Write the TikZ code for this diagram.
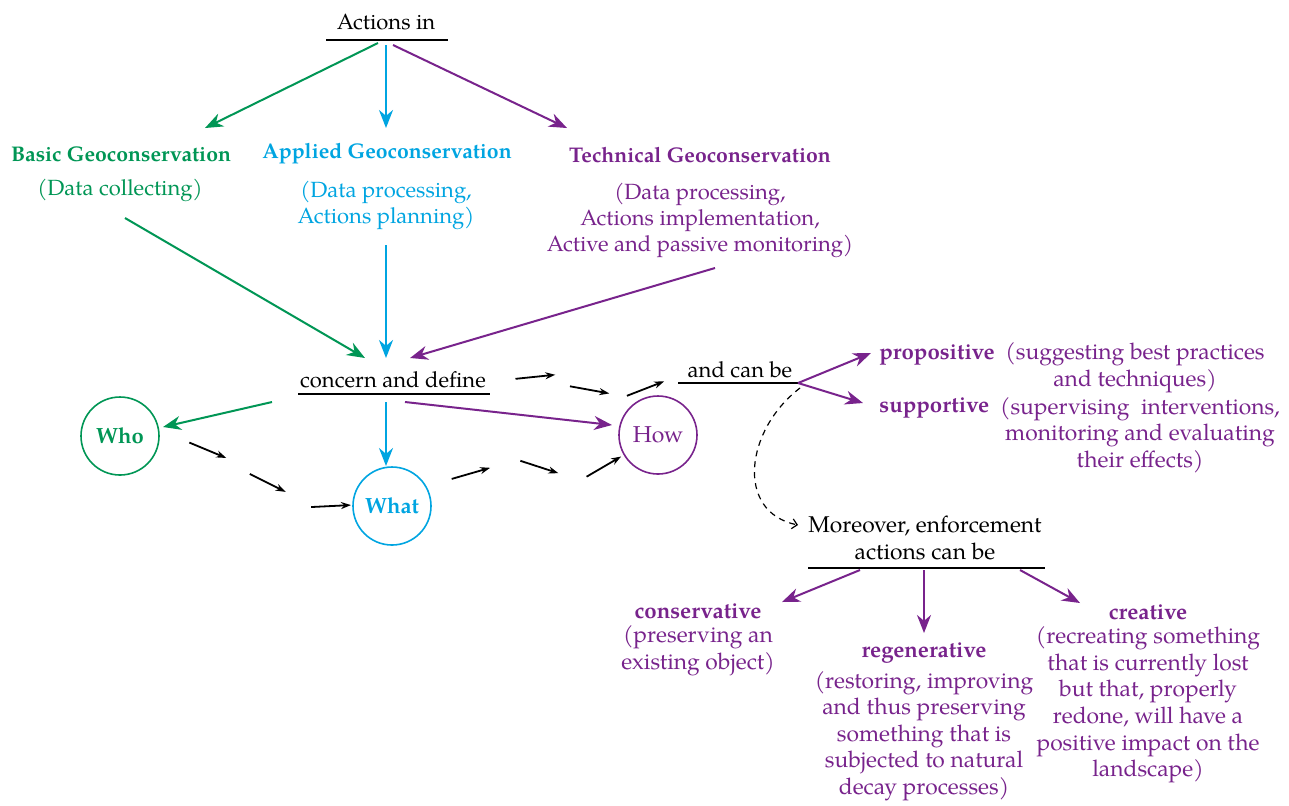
\documentclass[tikz,border=0pt]{standalone}
\usepackage{fontspec}
\setmainfont{texgyrepagella}[Extension=.otf,UprightFont=*-regular,BoldFont=*-bold,ItalicFont=*-italic,BoldItalicFont=*-bolditalic]
\usetikzlibrary{arrows.meta,calc,decorations.markings,shapes.geometric}
\definecolor{gc}{RGB}{0,150,85}
\definecolor{cc}{RGB}{0,165,225}
\definecolor{pc}{RGB}{120,35,140}
\tikzset{
  txt/.style={align=center,inner sep=1pt,font=\fontsize{11}{13}\selectfont},
  hbold/.style={align=center,inner sep=1pt,font=\bfseries\fontsize{10.6}{13}\selectfont},
  ltxt/.style={align=center,inner sep=1pt,font=\fontsize{11.4}{13.3}\selectfont},
  lbold/.style={align=center,inner sep=1pt,font=\bfseries\fontsize{11.1}{13.3}\selectfont},
  arr/.style={-{Stealth[length=9pt,width=7pt]},line width=1pt},
  ulin/.style={line width=0.8pt},
  circ/.style={ellipse,draw,line width=0.8pt,minimum width=39pt,minimum height=39pt,inner sep=0pt},
  flowdash/.style={postaction={decorate},decoration={markings,
    mark=at position 0.32 with {\draw[-{Stealth[length=5pt,width=3.5pt]},line width=0.9pt] (-20pt,0)--(0,0);},
    mark=at position 0.66 with {\draw[-{Stealth[length=5pt,width=3.5pt]},line width=0.9pt] (-20pt,0)--(0,0);},
    mark=at position 0.995 with {\draw[-{Stealth[length=5pt,width=3.5pt]},line width=0.9pt] (-20pt,0)--(0,0);}}}
}
\begin{document}
\begin{tikzpicture}[x=0.5pt,y=-0.5pt]
\useasboundingbox[fill=white] (0,0) rectangle (1289,805);

% top
\node[txt] (actions) at (386,22) {Actions in};
\draw[ulin] (326,40) -- (448,40);

\node[hbold,text=gc] (basic) at (121,154) {Basic Geoconservation};
\node[txt,text=gc] (basicsub) at (120,190) {(Data collecting)};
\node[hbold,text=cc] (applied) at (387,154) {Applied Geoconservation};
\node[txt,text=cc] (appliedsub) at (386,205) {(Data processing,\\Actions planning)};
\node[hbold,text=pc] (technical) at (700,155) {Technical Geoconservation};
\node[txt,text=pc] (techsub) at (700,220) {(Data processing,\\Actions implementation,\\Active and passive monitoring)};

\draw[arr,gc] ($(actions)+(-8,21)$) -- ($(basic)+(84,-26)$);
\draw[arr,cc] ($(actions)+(0,23)$) -- ($(applied)+(-1,-26)$);
\draw[arr,pc] ($(actions)+(7,23)$) -- ($(technical)+(-133,-27)$);

% concern
\node[txt] (concern) at (393,380) {concern and define};
\draw[ulin] (298,394) -- (490,394);

\draw[arr,gc] ($(basicsub)+(5,28)$) -- ($(concern)+(-28,-22)$);
\draw[arr,cc] ($(appliedsub)+(0,40)$) -- ($(concern)+(-7,-22)$);
\draw[arr,pc] ($(techsub)+(15,48)$) -- ($(concern)+(17,-22)$);

% who what how
\node[circ,draw=gc,text=gc,font=\bfseries\fontsize{11}{13}\selectfont] (who) at (120,436) {Who};
\node[circ,draw=cc,text=cc,font=\bfseries\fontsize{11}{13}\selectfont] (what) at (392,506) {What};
\node[circ,draw=pc,text=pc,font=\fontsize{11.5}{13}\selectfont] (how) at (658,435) {How};

\draw[arr,gc] ($(concern)+(-121,22)$) -- ($(who)+(43,-9)$);
\draw[arr,cc] ($(concern)+(-7,22)$) -- ($(what)+(-6,-40)$);
\draw[arr,pc] ($(concern)+(12,22)$) -- ($(how)+(-46,-10)$);

\path[flowdash] ($(who)+(43,14)$) .. controls (255,440) and (262,510) .. ($(what)+(-40,-1)$);
\path[flowdash] plot[smooth] coordinates {($(what)+(44,-3)$) (470,476) (505,465) (550,471) (580,477) ($(how)+(-36,21)$)};

% and can be
\node[txt] (andcan) at (740,370) {and can be};
\draw[ulin] (678,383) -- (798,383) coordinate (acend);
\path[flowdash] ($(concern)+(112,15)$) .. controls (530,384) and (550,370) .. (568,376) .. controls (585,382) and (600,396) .. (622,394) .. controls (640,392) and (652,386) .. ($(andcan)+(-75,11)$);

\node[lbold,anchor=west,text=pc] (propos) at (877,355) {propositive};
\node[ltxt,text=pc] (propdesc) at (1135,368) {(suggesting best practices\\and techniques)};
\node[lbold,anchor=west,text=pc] (support) at (877,408) {supportive};
\node[ltxt,text=pc] (suppdesc) at (1140,435) {(supervising\ \ interventions,\\monitoring and evaluating\\their effects)};

\draw[arr,pc] (acend) -- ($(propos.west)+(-6,-2)$);
\draw[arr,pc] (acend) -- ($(support.west)+(-14,-5)$);

% moreover
\node[ltxt] (moreover) at (925,538) {Moreover, enforcement\\actions can be};
\draw[dashed,dash pattern=on 3pt off 2.5pt,line width=0.6pt,-{Straight Barb[length=2.5pt,width=5pt]}] ($(acend)+(2,5)$) .. controls (745,430) and (735,512) .. ($(moreover)+(-127,-13)$);
\draw[ulin] (808,568) coordinate (mo1) -- (1045,568) coordinate (mo2);

\node[lbold,text=pc] (cons) at (698,611) {conservative};
\node[ltxt,text=pc] (consdesc) at (698,651) {(preserving an\\existing object)};
\node[lbold,text=pc] (regen) at (924,653) {regenerative};
\node[ltxt,text=pc] (regendesc) at (924,736) {(restoring, improving\\and thus preserving\\something that is\\subjected to natural\\decay processes)};
\node[lbold,text=pc] (creat) at (1148,612) {creative};
\node[ltxt,text=pc] (creatdesc) at (1148,705) {(recreating something\\that is currently lost\\but that, properly\\redone, will have a\\positive impact on the\\landscape)};

\draw[arr,pc] ($(mo1)+(52,2)$) -- ($(cons)+(84,-9)$);
\draw[arr,pc] ($(mo1)+(116,2)$) -- ($(regen)+(0,-20)$);
\draw[arr,pc] ($(mo2)+(-25,2)$) -- ($(creat)+(-68,-9)$);
\end{tikzpicture}
\end{document}
